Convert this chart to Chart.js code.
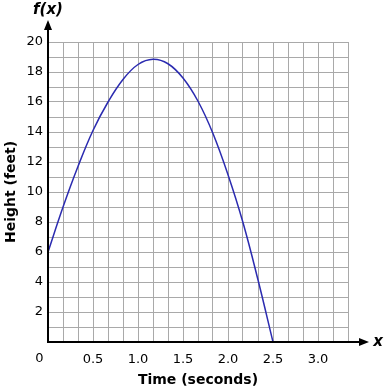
<!DOCTYPE html>
<html>
<head>
<meta charset="utf-8">
<script src="https://cdn.jsdelivr.net/npm/chart.js@4"></script>
<style>
  html, body { margin:0; padding:0; background:#fff; }
  #wrap { width:385px; height:390px; }
</style>
</head>
<body>
<div id="wrap"><canvas id="chart" width="385" height="390"></canvas></div>
<script>
// time (s) and height (ft)
const timeSec = [0, 0.167, 0.333, 0.5, 0.667, 0.833, 1.0, 1.167, 1.333, 1.5, 1.667, 1.833, 2.0, 2.167, 2.333, 2.5];
const heightFt = [6, 9.0, 11.7, 14.1, 16.0, 17.5, 18.5, 18.85, 18.55, 17.6, 16.05, 13.9, 11.15, 7.95, 4.15, 0];

// grid: 20 cells each way
const xGrid = Array.from({length: 21}, (_, i) => i / 6);
const yGrid = Array.from({length: 21}, (_, i) => i);
const xLabels = ["", "", "", "0.5", "", "", "1.0", "", "", "1.5", "", "", "2.0", "", "", "2.5", "", "", "3.0", "", ""];
const yLabels = yGrid.map(v => (v > 0 && v % 2 === 0) ? String(v) : "");

const FONT = "'DejaVu Sans', Verdana, sans-serif";
const INK = "#000";
const GRID = "#a9a9a9";

// axes with arrows, origin label and f(x)/x names
const axesPlugin = {
  id: "axes",
  afterDraw(chart){
    const {ctx} = chart;
    const x0 = chart.scales.x.getPixelForValue(0);
    const y0 = chart.scales.y.getPixelForValue(0);
    ctx.save();
    ctx.strokeStyle = INK;
    ctx.fillStyle = INK;
    ctx.lineWidth = 2;
    ctx.beginPath();
    ctx.moveTo(x0, y0 + 1);
    ctx.lineTo(x0, 28);
    ctx.moveTo(x0 - 1, y0);
    ctx.lineTo(362, y0);
    ctx.stroke();
    // arrow heads
    ctx.beginPath();
    ctx.moveTo(x0, 20); ctx.lineTo(x0 - 4, 30); ctx.lineTo(x0 + 4, 30); ctx.closePath();
    ctx.fill();
    ctx.beginPath();
    ctx.moveTo(369, y0); ctx.lineTo(359, y0 - 4); ctx.lineTo(359, y0 + 4); ctx.closePath();
    ctx.fill();

    ctx.font = "13px " + FONT;
    ctx.textAlign = "center";
    ctx.textBaseline = "middle";
    ctx.fillText("0", 39.5, y0 + 17);

    ctx.font = "italic bold 15px " + FONT;
    ctx.fillText("f(x)", x0, 10);
    ctx.fillText("x", 378, y0);
    ctx.restore();
  }
};

new Chart(document.getElementById("chart"), {
  type: "line",
  data: {
    datasets: [{
      data: timeSec.map((t, i) => ({x: t, y: heightFt[i]})),
      borderColor: "#2b2bb0",
      borderWidth: 1.5,
      pointRadius: 0,
      fill: false,
      tension: 0.4
    }]
  },
  options: {
    responsive: false,
    animation: false,
    layout: { padding: { left: 0, top: 42, right: 37, bottom: 0 } },
    plugins: { legend: { display: false }, tooltip: { enabled: false } },
    scales: {
      x: {
        type: "linear",
        min: 0,
        max: 20 / 6,
        afterBuildTicks: s => { s.ticks = xGrid.map(v => ({value: v})); },
        afterFit: s => { s.height = 48; },
        grid: { color: GRID, lineWidth: 1, drawTicks: false },
        border: { display: false },
        ticks: {
          autoSkip: false,
          maxRotation: 0,
          padding: 10,
          color: INK,
          font: { family: FONT, size: 13 },
          callback: (v, i) => xLabels[i]
        },
        title: {
          display: true,
          text: "Time (seconds)",
          color: INK,
          font: { family: FONT, size: 14, weight: "bold" },
          padding: { top: 0, bottom: 1 }
        }
      },
      y: {
        min: 0,
        max: 20,
        afterBuildTicks: s => { s.ticks = yGrid.map(v => ({value: v})); },
        afterFit: s => { s.width = 48; },
        grid: { color: GRID, lineWidth: 1, drawTicks: false },
        border: { display: false },
        ticks: {
          autoSkip: false,
          padding: 5,
          color: INK,
          font: { family: FONT, size: 13 },
          callback: (v, i) => yLabels[i]
        },
        title: {
          display: true,
          text: "Height (feet)",
          color: INK,
          font: { family: FONT, size: 14, weight: "bold" },
          padding: { top: 3, bottom: 0 }
        }
      }
    }
  },
  plugins: [axesPlugin]
});
</script>
</body>
</html>
